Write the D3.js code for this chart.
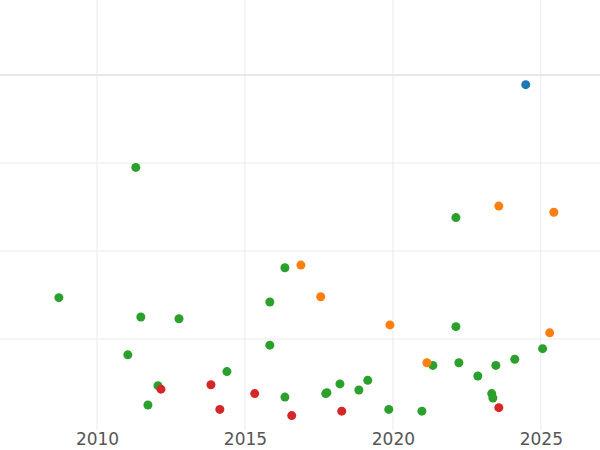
<!DOCTYPE html>
<html>
<head>
<meta charset="utf-8">
<script src="https://cdn.jsdelivr.net/npm/d3@7"></script>
<style>
  body { margin: 0; background: #fff; }
  text { font-family: "DejaVu Sans", sans-serif; }
</style>
</head>
<body>
<svg id="chart" width="600" height="450"></svg>
<script>
// each group: years and values
const blueX = [2024.49]
const blueY = [3.89]
const orangeX = [2016.89, 2017.56, 2019.90, 2021.15, 2023.58, 2025.44, 2025.30]
const orangeY = [1.84, 1.48, 1.16, 0.73, 2.51, 2.44, 1.07]
const redX = [2012.16, 2013.85, 2014.15, 2015.33, 2016.58, 2018.27, 2023.58]
const redY = [0.43, 0.48, 0.20, 0.38, 0.13, 0.18, 0.22]
const greenX = [2008.71, 2011.31, 2011.48, 2011.04, 2012.06, 2011.72, 2012.77, 2014.39,
  2016.35, 2015.84, 2015.84, 2016.35, 2017.73, 2018.21, 2017.77, 2018.85, 2019.15, 2019.86,
  2020.98, 2021.35, 2022.13, 2022.13, 2022.23, 2022.87, 2023.34, 2023.38, 2023.48, 2024.12, 2025.06]
const greenY = [1.47, 2.95, 1.25, 0.82, 0.47, 0.25, 1.23, 0.63,
  1.81, 1.42, 0.93, 0.34, 0.38, 0.49, 0.39, 0.42, 0.53, 0.20,
  0.18, 0.70, 2.38, 1.14, 0.73, 0.58, 0.38, 0.33, 0.70, 0.77, 0.89]
const xTicks = [2010, 2015, 2020, 2025]
const yGrid = [1, 2, 3, 4]

const series = [
  { color: '#2ca02c', xs: greenX, ys: greenY },
  { color: '#d62728', xs: redX, ys: redY },
  { color: '#ff7f0e', xs: orangeX, ys: orangeY },
  { color: '#1f77b4', xs: blueX, ys: blueY }
]

const svg = d3.select('#chart')
const x = d3.scaleLinear().domain([2006.72, 2027.0]).range([0, 600])
const y = d3.scaleLinear().domain([0, 4]).range([427, 75])

// grid
svg.append('g').selectAll('line').data(xTicks).join('line')
  .attr('x1', d => x(d)).attr('x2', d => x(d))
  .attr('y1', 0).attr('y2', 430)
  .attr('stroke', '#ebebeb')
svg.append('g').selectAll('line').data(yGrid).join('line')
  .attr('x1', 0).attr('x2', 600)
  .attr('y1', d => y(d)).attr('y2', d => y(d))
  .attr('stroke', d => d === 4 ? '#e0e0e0' : '#ebebeb')
  .attr('stroke-width', d => d === 4 ? 1.5 : 1)

// x axis
const xAxis = svg.append('g')
  .attr('transform', 'translate(0,430)')
  .call(d3.axisBottom(x).tickValues(xTicks).tickFormat(d3.format('d')).tickSize(0).tickPadding(3))
xAxis.select('.domain').remove()
xAxis.selectAll('text').attr('font-size', 17).attr('fill', '#555')

// points
series.forEach(s => {
  svg.append('g').selectAll('circle').data(s.xs.map((v, i) => [v, s.ys[i]])).join('circle')
    .attr('cx', d => x(d[0]))
    .attr('cy', d => y(d[1]))
    .attr('r', 4.5)
    .attr('fill', s.color)
})
</script>
</body>
</html>
